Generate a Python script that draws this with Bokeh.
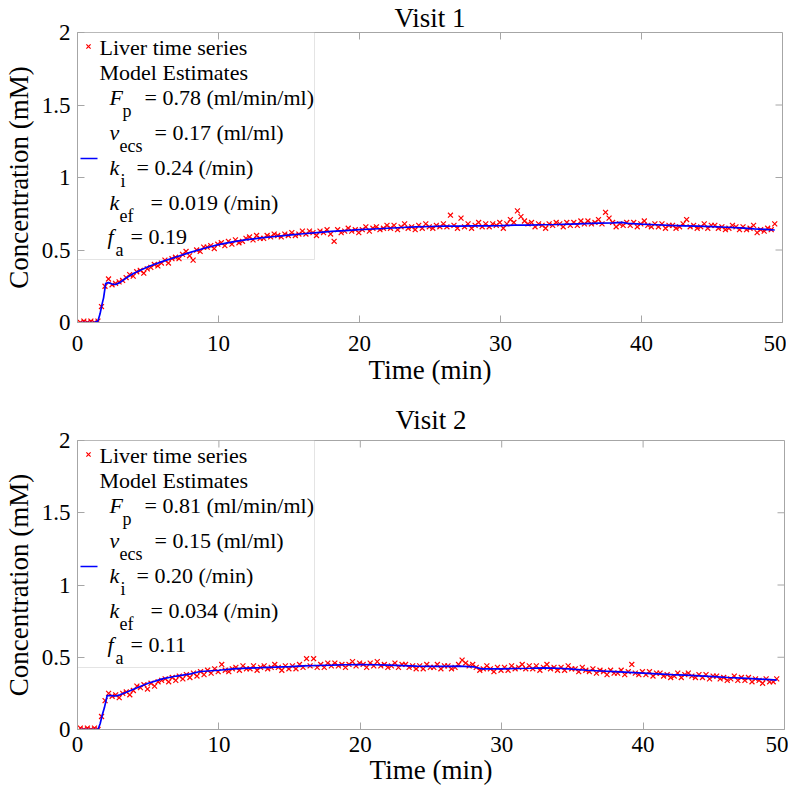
from bokeh.plotting import figure
from bokeh.models import Range1d, FixedTicker, BoxAnnotation, Label, ColumnDataSource
from bokeh.layouts import column
from bokeh.embed import file_html
from bokeh.resources import INLINE

# ---------------- data ----------------
TIME_MIN = [
    0.20, 0.45, 0.70, 0.95, 1.20, 1.45, 1.70, 1.95, 2.20, 2.45, 2.70, 2.95,
    3.20, 3.45, 3.70, 3.95, 4.20, 4.45, 4.70, 4.95, 5.20, 5.45, 5.70, 5.95,
    6.20, 6.45, 6.70, 6.95, 7.20, 7.45, 7.70, 7.95, 8.20, 8.45, 8.70, 8.95,
    9.20, 9.45, 9.70, 9.95, 10.20, 10.45, 10.70, 10.95, 11.20, 11.45, 11.70, 11.95,
    12.20, 12.45, 12.70, 12.95, 13.20, 13.45, 13.70, 13.95, 14.20, 14.45, 14.70, 14.95,
    15.20, 15.45, 15.70, 15.95, 16.20, 16.45, 16.70, 16.95, 17.20, 17.45, 17.70, 17.95,
    18.20, 18.45, 18.70, 18.95, 19.20, 19.45, 19.70, 19.95, 20.20, 20.45, 20.70, 20.95,
    21.20, 21.45, 21.70, 21.95, 22.20, 22.45, 22.70, 22.95, 23.20, 23.45, 23.70, 23.95,
    24.20, 24.45, 24.70, 24.95, 25.20, 25.45, 25.70, 25.95, 26.20, 26.45, 26.70, 26.95,
    27.20, 27.45, 27.70, 27.95, 28.20, 28.45, 28.70, 28.95, 29.20, 29.45, 29.70, 29.95,
    30.20, 30.45, 30.70, 30.95, 31.20, 31.45, 31.70, 31.95, 32.20, 32.45, 32.70, 32.95,
    33.20, 33.45, 33.70, 33.95, 34.20, 34.45, 34.70, 34.95, 35.20, 35.45, 35.70, 35.95,
    36.20, 36.45, 36.70, 36.95, 37.20, 37.45, 37.70, 37.95, 38.20, 38.45, 38.70, 38.95,
    39.20, 39.45, 39.70, 39.95, 40.20, 40.45, 40.70, 40.95, 41.20, 41.45, 41.70, 41.95,
    42.20, 42.45, 42.70, 42.95, 43.20, 43.45, 43.70, 43.95, 44.20, 44.45, 44.70, 44.95,
    45.20, 45.45, 45.70, 45.95, 46.20, 46.45, 46.70, 46.95, 47.20, 47.45, 47.70, 47.95,
    48.20, 48.45, 48.70, 48.95, 49.20, 49.45,
]

V1_CONC = [
    0.00, 0.01, 0.00, 0.01, 0.00, 0.01, 0.11, 0.25, 0.30, 0.26, 0.27, 0.28,
    0.29, 0.31, 0.33, 0.32, 0.35, 0.36, 0.34, 0.37, 0.38, 0.40, 0.39, 0.41,
    0.43, 0.41, 0.44, 0.45, 0.44, 0.47, 0.49, 0.46, 0.43, 0.50, 0.49, 0.52,
    0.52, 0.53, 0.51, 0.54, 0.55, 0.53, 0.56, 0.54, 0.57, 0.55, 0.56, 0.58,
    0.59, 0.57, 0.60, 0.58, 0.58, 0.60, 0.59, 0.61, 0.60, 0.59, 0.61, 0.60,
    0.62, 0.60, 0.61, 0.63, 0.61, 0.63, 0.62, 0.60, 0.63, 0.62, 0.64, 0.61,
    0.56, 0.64, 0.62, 0.63, 0.65, 0.63, 0.64, 0.62, 0.64, 0.66, 0.63, 0.65,
    0.66, 0.64, 0.65, 0.67, 0.65, 0.67, 0.64, 0.66, 0.68, 0.65, 0.66, 0.64,
    0.67, 0.65, 0.68, 0.66, 0.65, 0.67, 0.66, 0.68, 0.66, 0.74, 0.67, 0.65,
    0.72, 0.66, 0.68, 0.65, 0.67, 0.69, 0.66, 0.68, 0.66, 0.68, 0.67, 0.69,
    0.65, 0.68, 0.71, 0.69, 0.77, 0.73, 0.70, 0.68, 0.69, 0.66, 0.68, 0.67,
    0.65, 0.68, 0.67, 0.69, 0.68, 0.66, 0.69, 0.67, 0.69, 0.67, 0.70, 0.68,
    0.70, 0.68, 0.69, 0.71, 0.68, 0.76, 0.72, 0.69, 0.66, 0.68, 0.67, 0.69,
    0.67, 0.69, 0.66, 0.68, 0.70, 0.67, 0.66, 0.68, 0.66, 0.68, 0.65, 0.67,
    0.67, 0.65, 0.66, 0.68, 0.71, 0.66, 0.67, 0.65, 0.66, 0.68, 0.65, 0.67,
    0.67, 0.65, 0.66, 0.64, 0.65, 0.67, 0.66, 0.64, 0.66, 0.64, 0.65, 0.67,
    0.62, 0.64, 0.63, 0.65, 0.64, 0.68,
]

V2_CONC = [
    0.01, 0.00, 0.01, 0.00, 0.01, 0.00, 0.09, 0.20, 0.25, 0.23, 0.24, 0.22,
    0.25, 0.26, 0.24, 0.27, 0.30, 0.29, 0.31, 0.28, 0.32, 0.30, 0.33, 0.34,
    0.35, 0.33, 0.36, 0.34, 0.37, 0.35, 0.38, 0.36, 0.39, 0.37, 0.40, 0.38,
    0.41, 0.39, 0.42, 0.40, 0.45, 0.41, 0.40, 0.42, 0.43, 0.41, 0.44, 0.42,
    0.42, 0.44, 0.41, 0.43, 0.44, 0.42, 0.43, 0.45, 0.43, 0.41, 0.44, 0.42,
    0.44, 0.42, 0.45, 0.43, 0.49, 0.44, 0.49, 0.43, 0.45, 0.43, 0.46, 0.44,
    0.46, 0.44, 0.45, 0.43, 0.45, 0.47, 0.44, 0.46, 0.45, 0.43, 0.46, 0.44,
    0.47, 0.44, 0.45, 0.43, 0.44, 0.46, 0.43, 0.45, 0.45, 0.43, 0.44, 0.42,
    0.44, 0.42, 0.45, 0.43, 0.43, 0.45, 0.42, 0.44, 0.44, 0.42, 0.43, 0.45,
    0.48, 0.46, 0.44, 0.45, 0.43, 0.41, 0.42, 0.44, 0.42, 0.40, 0.43, 0.41,
    0.43, 0.41, 0.44, 0.42, 0.43, 0.45, 0.42, 0.44, 0.42, 0.44, 0.41, 0.43,
    0.45, 0.42, 0.43, 0.41, 0.43, 0.41, 0.44, 0.42, 0.42, 0.40, 0.43, 0.41,
    0.40, 0.42, 0.39, 0.41, 0.40, 0.38, 0.41, 0.39, 0.39, 0.41, 0.38, 0.40,
    0.45, 0.39, 0.38, 0.40, 0.38, 0.40, 0.37, 0.39, 0.39, 0.37, 0.38, 0.36,
    0.37, 0.39, 0.36, 0.38, 0.39, 0.37, 0.36, 0.38, 0.36, 0.38, 0.35, 0.37,
    0.37, 0.35, 0.36, 0.34, 0.35, 0.37, 0.34, 0.36, 0.34, 0.36, 0.33, 0.35,
    0.34, 0.32, 0.35, 0.33, 0.33, 0.35,
]

V1_MODEL_T = [0.20, 0.70, 1.20, 1.45, 1.60, 1.75, 1.85, 2.00, 2.20, 2.45, 2.70, 3.00, 3.50,
              4, 5, 6, 7, 8, 9, 10, 11, 12, 13, 14, 15, 16, 17, 18, 19, 20, 21, 22, 23, 24,
              25, 26, 27, 28, 29, 30, 31, 32, 33, 34, 35, 36, 37, 38, 38.6, 39, 40, 41, 42,
              43, 44, 45, 46, 47, 48, 49, 49.45]
V1_MODEL = [0.0, 0.0, 0.0, 0.01, 0.06, 0.13, 0.17, 0.27, 0.275, 0.265, 0.262, 0.275, 0.31,
            0.34, 0.385, 0.42, 0.452, 0.484, 0.512, 0.537, 0.556, 0.571, 0.583, 0.593, 0.603,
            0.612, 0.62, 0.628, 0.634, 0.64, 0.645, 0.65, 0.655, 0.659, 0.662, 0.664, 0.665,
            0.666, 0.667, 0.668, 0.671, 0.672, 0.674, 0.676, 0.679, 0.682, 0.685, 0.687, 0.69,
            0.684, 0.678, 0.674, 0.67, 0.667, 0.664, 0.661, 0.657, 0.652, 0.646, 0.641, 0.638]

V2_MODEL_T = [0.20, 0.70, 1.20, 1.45, 1.60, 1.75, 1.90, 2.10, 2.40, 2.70, 3.00, 3.50,
              4, 5, 6, 7, 8, 8.6, 9, 10, 11, 12, 13, 14, 15, 16, 17, 18, 19, 20, 21, 22, 23,
              24, 25, 26, 27, 28, 28.6, 29, 30, 31, 32, 33, 34, 35, 36, 37, 38, 39, 40, 41,
              42, 43, 44, 45, 46, 47, 48, 49, 49.45]
V2_MODEL = [0.0, 0.0, 0.0, 0.0, 0.04, 0.10, 0.15, 0.235, 0.235, 0.232, 0.24, 0.26,
            0.28, 0.32, 0.35, 0.37, 0.385, 0.40, 0.403, 0.41, 0.42, 0.425, 0.428, 0.432,
            0.435, 0.44, 0.443, 0.445, 0.448, 0.45, 0.448, 0.445, 0.442, 0.439, 0.437, 0.437,
            0.438, 0.434, 0.42, 0.419, 0.42, 0.422, 0.424, 0.427, 0.424, 0.418, 0.41, 0.405,
            0.40, 0.395, 0.39, 0.385, 0.38, 0.376, 0.371, 0.366, 0.36, 0.355, 0.35, 0.345, 0.342]

X_TICKS = [0, 10, 20, 30, 40, 50]
Y_TICKS = [0, 0.5, 1, 1.5, 2]
Y_TICK_LABELS = ["0", "0.5", "1", "1.5", "2"]

V1_PARAMS = [("F", "p", "= 0.78 (ml/min/ml)"), ("v", "ecs", "= 0.17 (ml/ml)"),
             ("k", "i", "= 0.24 (/min)"), ("k", "ef", "= 0.019 (/min)"), ("f", "a", "= 0.19")]
V2_PARAMS = [("F", "p", "= 0.81 (ml/min/ml)"), ("v", "ecs", "= 0.15 (ml/ml)"),
             ("k", "i", "= 0.20 (/min)"), ("k", "ef", "= 0.034 (/min)"), ("f", "a", "= 0.11")]

# ---------------- style ----------------
FONT = "Liberation Serif"
GRAY = "#a6a6a6"
X_MAX, Y_MAX = 50, 2
TICK_LEN = 7

# legend layout in pixels relative to the frame's top-left corner
ROW_DY = [65, 100, 135, 170, 204]
SUB_DX = [45, 42, 43, 42, 38]
EQ_DX = [67, 77, 59, 73, 53]
SYM_DX = [32, 32, 32, 32, 30]


def make_panel(title, conc, model_t, model_c, params, border_left, frame_w,
               border_top, frame_h, border_bottom, tick_standoff, label_standoff,
               title_standoff):
    p = figure(frame_width=frame_w, frame_height=frame_h,
               x_range=Range1d(0, X_MAX), y_range=Range1d(0, Y_MAX),
               output_backend="svg", toolbar_location=None,
               min_border_left=border_left, min_border_right=4,
               min_border_top=border_top, min_border_bottom=border_bottom,
               background_fill_color="white", border_fill_color="white")
    p.title.text = title
    p.title.align = "center"
    p.title.text_font = FONT
    p.title.text_font_size = "27px"
    p.title.text_font_style = "normal"
    p.title.text_color = "black"
    p.title.standoff = title_standoff
    p.title.offset = 0

    p.xgrid.visible = False
    p.ygrid.visible = False
    p.outline_line_color = GRAY
    p.outline_line_width = 1

    for ax in (p.xaxis[0], p.yaxis[0]):
        ax.major_label_text_font = FONT
        ax.major_label_text_font_size = "23px"
        ax.major_label_text_color = "black"
        ax.axis_label_text_font = FONT
        ax.axis_label_text_font_size = "27px"
        ax.axis_label_text_font_style = "normal"
        ax.axis_label_text_color = "black"
        ax.axis_line_color = GRAY
        ax.major_tick_line_color = GRAY
        ax.major_tick_in = TICK_LEN
        ax.major_tick_out = 0
        ax.minor_tick_line_color = None
    p.xaxis[0].ticker = FixedTicker(ticks=X_TICKS)
    p.yaxis[0].ticker = FixedTicker(ticks=Y_TICKS)
    p.yaxis[0].major_label_overrides = {t: s for t, s in zip(Y_TICKS, Y_TICK_LABELS)}
    p.xaxis[0].axis_label = "Time (min)"
    p.yaxis[0].axis_label = "Concentration (mM)"
    p.xaxis[0].major_label_standoff = tick_standoff
    p.xaxis[0].axis_label_standoff = label_standoff
    p.yaxis[0].major_label_standoff = 7
    p.yaxis[0].axis_label_standoff = 5

    # pixel -> data helpers
    sx = X_MAX / frame_w
    sy = Y_MAX / frame_h

    # inward ticks on the top and right edges of the box
    p.segment(x0=X_TICKS, y0=[Y_MAX] * len(X_TICKS), x1=X_TICKS,
              y1=[Y_MAX - TICK_LEN * sy] * len(X_TICKS), line_color=GRAY, line_width=1)
    p.segment(x0=[X_MAX] * len(Y_TICKS), y0=Y_TICKS, x1=[X_MAX - TICK_LEN * sx] * len(Y_TICKS),
              y1=Y_TICKS, line_color=GRAY, line_width=1)

    # legend box
    p.add_layout(BoxAnnotation(left=0, right=237 * sx, bottom=Y_MAX - 227 * sy, top=Y_MAX,
                               fill_color="white", fill_alpha=1.0, line_color=GRAY,
                               line_width=1, level="underlay"))

    src = ColumnDataSource(dict(t=TIME_MIN, c=conc))
    p.scatter("t", "c", source=src, marker="x", size=7, line_color="#ff0000", line_width=1.2)
    p.line(model_t, model_c, line_color="#0000ff", line_width=1.7)

    # legend samples
    p.scatter([11 * sx], [Y_MAX - 14 * sy], marker="x", size=6, line_color="#ff0000", line_width=1.2)
    p.line([3 * sx, 20 * sx], [Y_MAX - 126 * sy] * 2, line_color="#0000ff", line_width=1.7)

    def lab(dx, dy, text, size="22px", style="normal"):
        p.add_layout(Label(x=0, y=Y_MAX, x_offset=dx, y_offset=-dy, text=text,
                           text_font=FONT, text_font_size=size, text_font_style=style,
                           text_baseline="middle", text_align="left", text_color="black"))

    lab(22, 15, "Liver time series")
    lab(22, 40, "Model Estimates")
    for (sym, sub, rest), dy, sdx, subdx, eqdx in zip(params, ROW_DY, SYM_DX, SUB_DX, EQ_DX):
        lab(sdx, dy, sym, style="italic")
        lab(subdx, dy + 13, sub, size="18px")
        lab(eqdx, dy, rest)
    return p


p1 = make_panel("Visit 1", V1_CONC, V1_MODEL_T, V1_MODEL, V1_PARAMS,
                border_left=72, frame_w=705, border_top=27, frame_h=290, border_bottom=70,
                tick_standoff=13, label_standoff=1, title_standoff=0)
p2 = make_panel("Visit 2", V2_CONC, V2_MODEL_T, V2_MODEL, V2_PARAMS,
                border_left=69, frame_w=707, border_top=48, frame_h=289, border_bottom=63,
                tick_standoff=7, label_standoff=0, title_standoff=12)

layout = column(p1, p2, spacing=0)
open("out.html", "w").write(file_html(layout, INLINE))
